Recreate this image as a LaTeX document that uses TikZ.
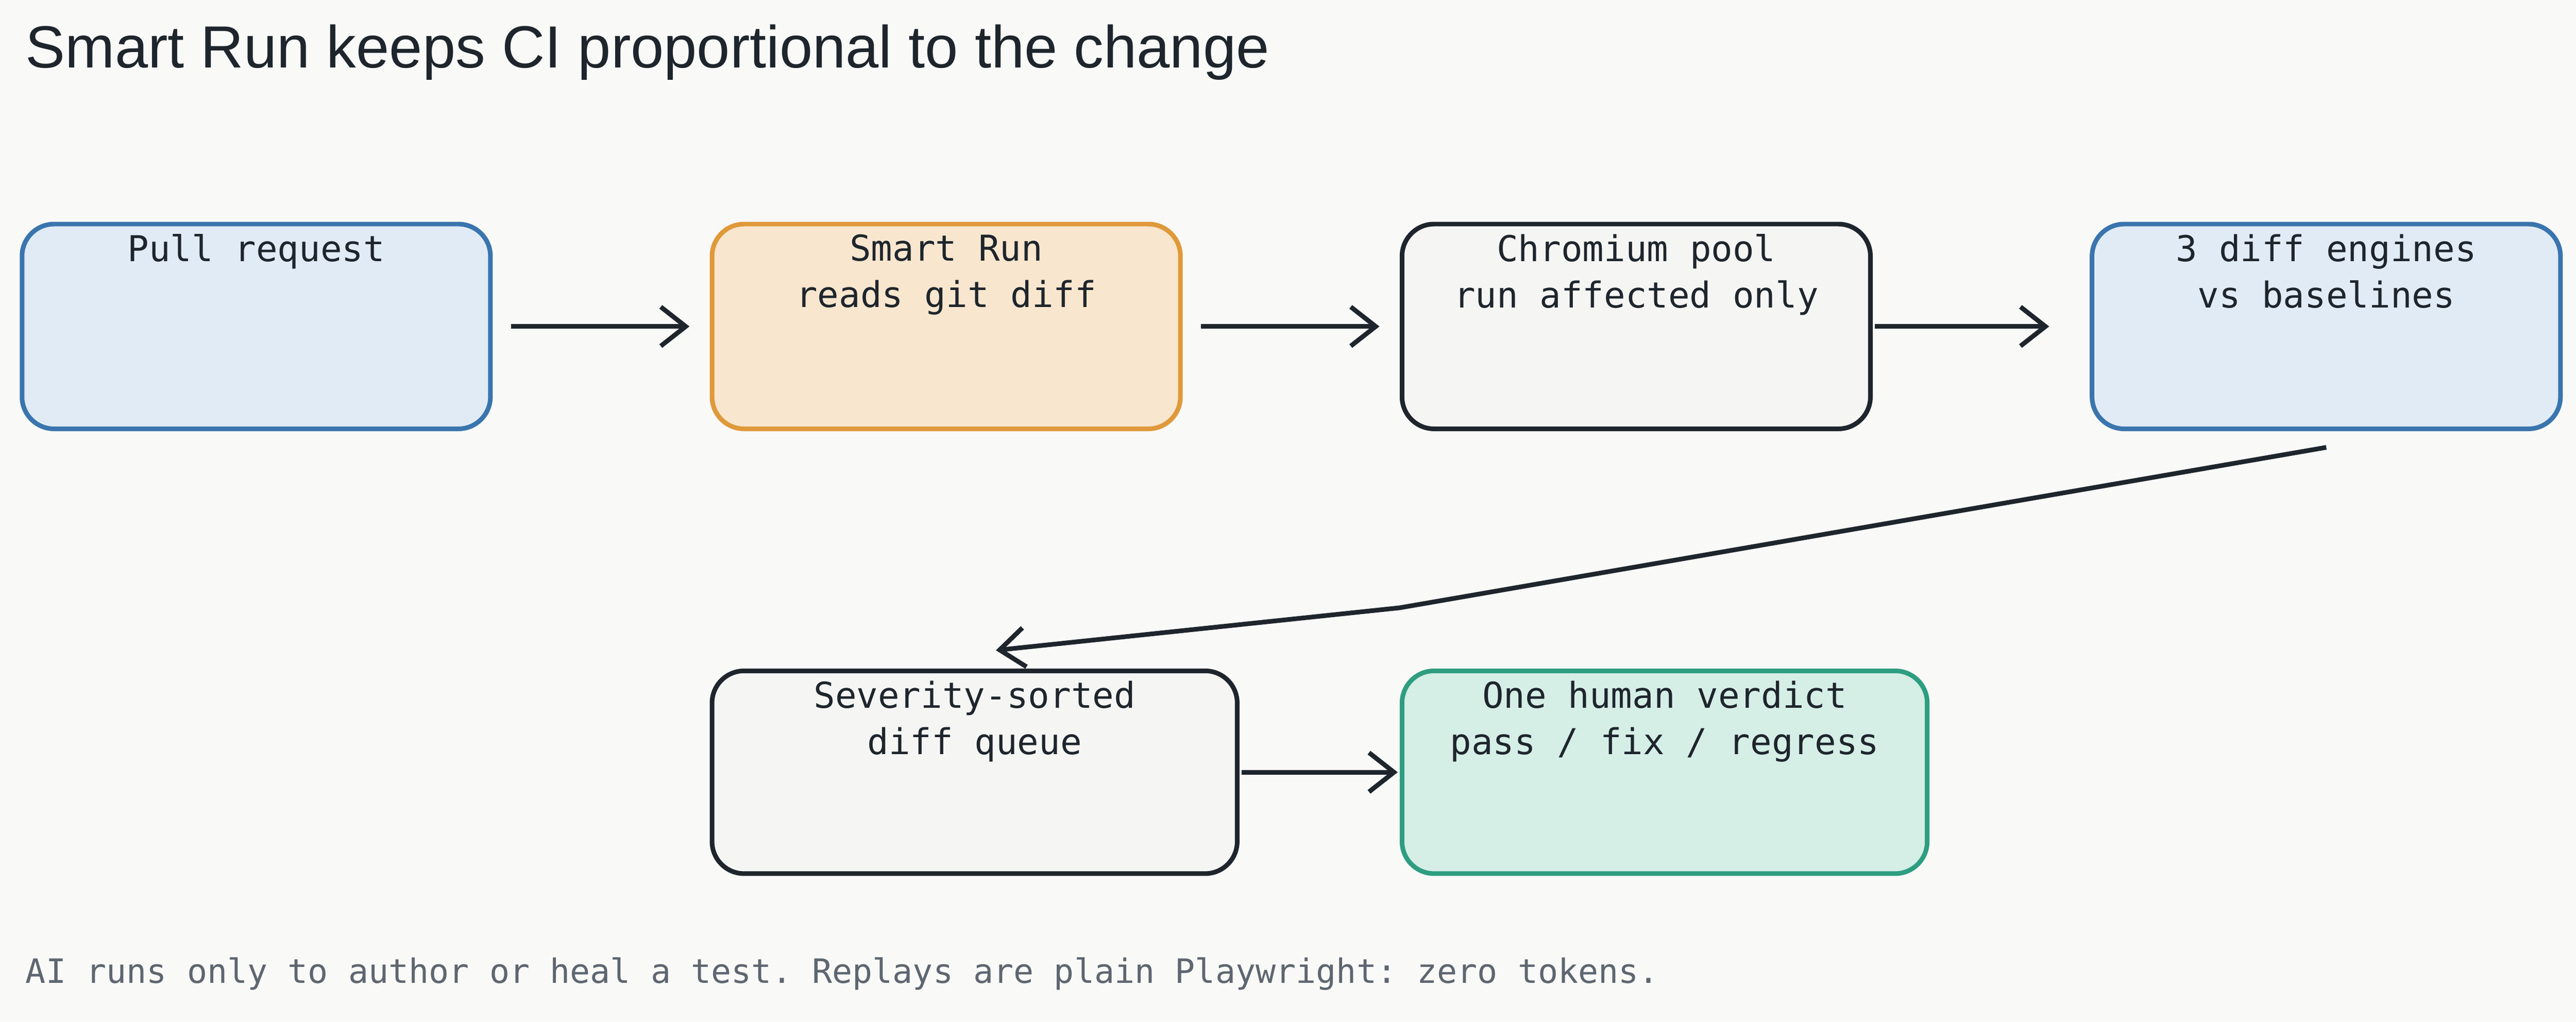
\documentclass[tikz,border=0pt]{standalone}
\usepackage{fontspec}
\setmainfont{Liberation Sans}
\setmonofont{DejaVu Sans Mono}
\usetikzlibrary{positioning, arrows.meta}
\definecolor{bgc}{HTML}{F9F9F7}
\definecolor{inkc}{HTML}{1E252C}
\definecolor{bluef}{HTML}{E1EBF5}
\definecolor{blued}{HTML}{3A75AE}
\definecolor{orangef}{HTML}{F8E6CE}
\definecolor{oranged}{HTML}{E0993A}
\definecolor{grayf}{HTML}{F5F5F3}
\definecolor{greenf}{HTML}{D5EEE6}
\definecolor{greend}{HTML}{2E9E80}
\definecolor{notec}{HTML}{5E6670}
\tikzset{>={Straight Barb[length=7pt,width=11pt]}}
\begin{document}
\begin{tikzpicture}[
  x=0.0162cm, y=-0.0162cm,
  box/.style={draw, rounded corners=9pt, line width=1.3pt, anchor=north west, inner sep=0pt},
  wide/.style={box, minimum width=4.62cm, minimum height=2.02cm},
  wider/.style={box, minimum width=5.18cm, minimum height=2.0cm},
  txt/.style={font=\ttfamily\fontsize{10}{13}\selectfont, align=center, text=inkc},
  path/.style={->, line width=1.3pt, draw=inkc}
]
  % Background
  \fill[bgc] (0,0) rectangle (1568,622);
  \useasboundingbox (0,0) rectangle (1568,622);

  % Title and note
  \node[anchor=west, text=inkc, font=\fontsize{16.7}{20}\selectfont] (title) at (8,32) {Smart Run keeps CI proportional to the change};
  \node[anchor=west, text=notec, font=\ttfamily\fontsize{9.4}{12}\selectfont] (note) at (8,593) {AI runs only to author or heal a test. Replays are plain Playwright: zero tokens.};

  % Boxes
  \node[wide, fill=bluef, draw=blued] (pr) at (12,135)
    {}; \node[txt, below=0cm of pr.north] {Pull request};
  \node[wide, fill=orangef, draw=oranged] (smart) at (432,135)
    {}; \node[txt, below=0cm of smart.north] {Smart Run\\reads git diff};
  \node[wide, fill=grayf, draw=inkc] (pool) at (852,135)
    {}; \node[txt, below=0cm of pool.north] {Chromium pool\\run affected only};
  \node[wide, fill=bluef, draw=blued] (engines) at (1272,135)
    {}; \node[txt, below=0cm of engines.north] {3 diff engines\\vs baselines};
  \node[wider, fill=grayf, draw=inkc] (queue) at (432,407)
    {}; \node[txt, below=0cm of queue.north] {Severity-sorted\\diff queue};
  \node[wider, fill=greenf, draw=greend] (verdict) at (852,407)
    {}; \node[txt, below=0cm of verdict.north] {One human verdict\\pass / fix / regress};

  % Connectors
  \coordinate (bend) at (852,370);
  \draw[path] ([xshift=0.18cm]pr.east) -- ([xshift=-0.2cm]smart.west);
  \draw[path] ([xshift=0.18cm]smart.east) -- ([xshift=-0.2cm]pool.west);
  \draw[path] ([xshift=0.02cm]pool.east) -- ([xshift=-0.4cm]engines.west);
  \draw[path] ([yshift=-0.16cm]engines.south) -- (bend) -- ([xshift=0.21cm,yshift=0.18cm]queue.north);
  \draw[path] ([xshift=0.02cm]queue.east) -- ([xshift=-0.02cm]verdict.west);
\end{tikzpicture}
\end{document}
